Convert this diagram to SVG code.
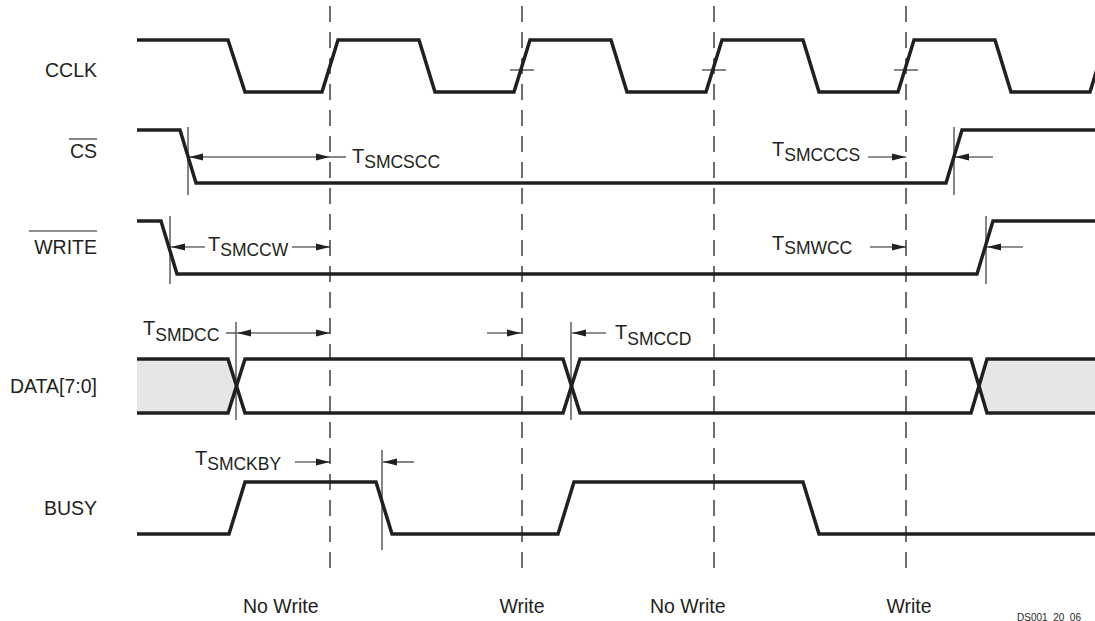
<svg xmlns="http://www.w3.org/2000/svg" width="1095" height="621" viewBox="0 0 1095 621">
<style>
.sig{fill:none;stroke:#231f20;stroke-width:3.5;stroke-linejoin:miter}
.thin{fill:none;stroke:#231f20;stroke-width:1.1}
.dash{fill:none;stroke:#231f20;stroke-width:1.3;stroke-dasharray:16 10}
.lbl{font-family:"Liberation Sans",Arial,sans-serif;font-size:19.5px;fill:#231f20}
.tl{font-family:"Liberation Sans",Arial,sans-serif;font-size:20px;fill:#231f20}
.sub{font-size:17.5px}
.arr{fill:none;stroke:#231f20;stroke-width:1.1;marker-end:url(#ah)}
.arr2{fill:none;stroke:#231f20;stroke-width:1.1;marker-start:url(#ahs);marker-end:url(#ah)}
.gray{fill:#e6e6e6;stroke:none}
</style>
<defs>
<marker id="ah" markerUnits="userSpaceOnUse" markerWidth="15" markerHeight="9" refX="14" refY="4.5" orient="auto"><path d="M0,1 L14,4.5 L0,8 Z" fill="#231f20"/></marker>
<marker id="ahs" markerUnits="userSpaceOnUse" markerWidth="15" markerHeight="9" refX="0" refY="4.5" orient="auto"><path d="M14,1 L0,4.5 L14,8 Z" fill="#231f20"/></marker>
</defs>
<rect width="1095" height="621" fill="#ffffff"/>

<g id="gridlines">
<line class="dash" x1="330" y1="6" x2="330" y2="578"/>
<line class="dash" x1="522" y1="6" x2="522" y2="578"/>
<line class="dash" x1="714" y1="6" x2="714" y2="578"/>
<line class="dash" x1="906" y1="6" x2="906" y2="578"/>
</g>

<g id="cclk">
<text class="lbl" x="97" y="77" text-anchor="end">CCLK</text>
<polyline class="sig" points="137,40 228,40 245,92 322,92 338,40 419,40 435,92 514,92 530,40 611,40 627,92 706,92 722,40 803,40 819,92 898,92 914,40 995,40 1011,92 1090,92 1106,40"/>
<line class="thin" x1="510" y1="70" x2="534" y2="70"/>
<line class="thin" x1="702" y1="70" x2="726" y2="70"/>
<line class="thin" x1="894" y1="70" x2="918" y2="70"/>
</g>

<g id="cs">
<text class="lbl" x="97" y="158" text-anchor="end">CS</text>
<line class="thin" x1="69" y1="139" x2="97" y2="139" stroke-width="1.3"/>
<polyline class="sig" points="137,130 180,130 196,183 946,183 962,130 1095,130"/>
</g>

<g id="write">
<text class="lbl" x="97" y="254" text-anchor="end">WRITE</text>
<line class="thin" x1="29" y1="231" x2="97" y2="231" stroke-width="1.3"/>
<polyline class="sig" points="137,221 161,221 177,274 977,274 993,221 1095,221"/>
</g>

<g id="data">
<text class="lbl" x="97" y="393" text-anchor="end">DATA[7:0]</text>
<polygon class="gray" points="137,359 228,359 236.5,386 228,413 137,413"/>
<polygon class="gray" points="1095,359 987,359 978.5,386 987,413 1095,413"/>
<polyline class="sig" points="137,359 228,359 245,413 563,413 580,359 971,359 987,413 1095,413"/>
<polyline class="sig" points="137,413 228,413 245,359 563,359 580,413 971,413 987,359 1095,359"/>
</g>

<g id="busy">
<text class="lbl" x="97" y="515" text-anchor="end">BUSY</text>
<polyline class="sig" points="137,534 229,534 245,482 376,482 392,534 558,534 574,482 803,482 819,534 1095,534"/>
</g>

<g id="connectors">
<line class="thin" x1="188" y1="127" x2="188" y2="195"/>
<line class="arr2" x1="189" y1="157" x2="330" y2="157"/>
<line class="thin" x1="330" y1="157" x2="346" y2="157"/>
<text class="tl" x="352" y="163">T<tspan class="sub" dy="5">SMCSCC</tspan></text>
<text class="tl" x="772" y="156">T<tspan class="sub" dy="5">SMCCCS</tspan></text>
<line class="arr" x1="868" y1="157" x2="906" y2="157"/>
<line class="thin" x1="954" y1="127" x2="954" y2="195"/>
<line class="arr" x1="993" y1="157" x2="955" y2="157"/>
<line class="thin" x1="170" y1="216" x2="170" y2="284"/>
<line class="arr" x1="205" y1="247" x2="171" y2="247"/>
<text class="tl" x="208" y="251">T<tspan class="sub" dy="5">SMCCW</tspan></text>
<line class="arr" x1="292" y1="247" x2="330" y2="247"/>
<text class="tl" x="772" y="250">T<tspan class="sub" dy="4">SMWCC</tspan></text>
<line class="arr" x1="870" y1="247" x2="906" y2="247"/>
<line class="thin" x1="986" y1="216" x2="986" y2="284"/>
<line class="arr" x1="1023" y1="247" x2="987" y2="247"/>
<text class="tl" x="143" y="335">T<tspan class="sub" dy="6">SMDCC</tspan></text>
<line class="thin" x1="226" y1="333" x2="236" y2="333"/>
<line class="thin" x1="236" y1="322" x2="236" y2="420"/>
<line class="arr2" x1="237" y1="333" x2="330" y2="333"/>
<line class="arr" x1="487" y1="333" x2="521" y2="333"/>
<line class="thin" x1="571" y1="322" x2="571" y2="420"/>
<line class="arr" x1="606" y1="333" x2="572" y2="333"/>
<text class="tl" x="615" y="339">T<tspan class="sub" dy="6">SMCCD</tspan></text>
<text class="tl" x="195" y="465">T<tspan class="sub" dy="5">SMCKBY</tspan></text>
<line class="arr" x1="295" y1="462" x2="330" y2="462"/>
<line class="thin" x1="382" y1="450" x2="382" y2="550"/>
<line class="arr" x1="414" y1="462" x2="383" y2="462"/>
</g>

<g id="labels">
<text class="lbl" x="243" y="613">No Write</text>
<text class="lbl" x="522" y="613" text-anchor="middle">Write</text>
<text class="lbl" x="650" y="613">No Write</text>
<text class="lbl" x="909" y="613" text-anchor="middle">Write</text>
<text x="1017" y="621" font-family="'Liberation Sans',Arial,sans-serif" font-size="10" fill="#231f20">DS001_20_06</text>
</g>
</svg>
